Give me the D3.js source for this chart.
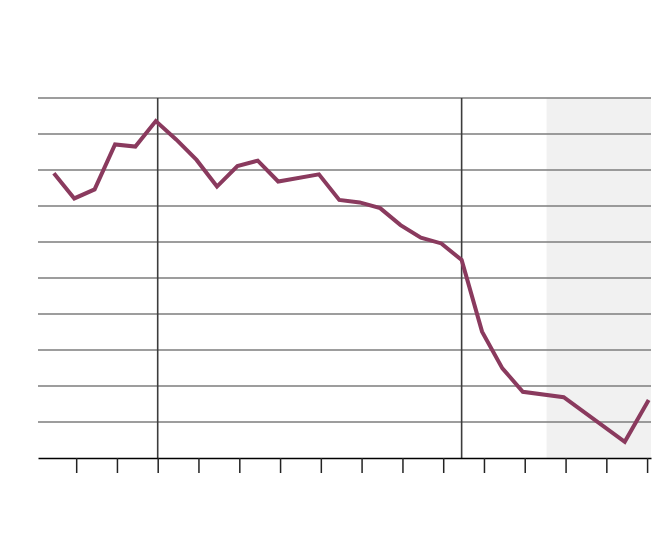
<!DOCTYPE html>
<html>
<head>
<meta charset="utf-8">
<script src="https://cdn.jsdelivr.net/npm/d3@7"></script>
<style>
  body { margin: 0; background: #fff; }
  svg { display: block; }
</style>
</head>
<body>
<div id="chart"></div>
<script>
// semi-annual readings (mid-month)
const dates = ['2000-06', '2000-12', '2001-06', '2001-12', '2002-06', '2002-12', '2003-06', '2003-12',
  '2004-06', '2004-12', '2005-06', '2005-12', '2006-12', '2007-06', '2007-12', '2008-06', '2008-12',
  '2009-06', '2009-12', '2010-06', '2010-12', '2011-06', '2011-12', '2012-12', '2014-06', '2015-01'];
const values = [7.91, 7.21, 7.46, 8.71, 8.65, 9.36, 8.85, 8.28,
  7.54, 8.11, 8.26, 7.68, 7.88, 7.17, 7.10, 6.94, 6.47,
  6.12, 5.96, 5.50, 3.51, 2.49, 1.84, 1.69, 0.45, 1.61];
const yTicks = [0, 1, 2, 3, 4, 5, 6, 7, 8, 9, 10];
const tickYears = [2001, 2002, 2003, 2004, 2005, 2006, 2007, 2008, 2009, 2010, 2011, 2012, 2013, 2014, 2015];
const markerDates = ['2003-01-01', '2010-06-15'];
const shadeStart = '2012-07-15';

const WIDTH = 670;
const HEIGHT = 554;
const margin = { top: 98, right: 19, bottom: 96, left: 38 };
const innerW = WIDTH - margin.left - margin.right;
const innerH = HEIGHT - margin.top - margin.bottom;

const parseMonth = d3.timeParse('%Y-%m');
const parseDay = d3.timeParse('%Y-%m-%d');
const data = dates.map((d, i) => {
  const dt = parseMonth(d);
  dt.setDate(15);
  return { date: dt, value: values[i] };
});

const x = d3.scaleTime()
  .domain([new Date(2000, 0, 25), new Date(2015, 1, 5)])
  .range([0, innerW]);

const y = d3.scaleLinear()
  .domain([0, 10])
  .range([innerH, 0]);

const svg = d3.select('#chart').append('svg')
  .attr('width', WIDTH)
  .attr('height', HEIGHT);

const chart = svg.append('g').attr('transform', `translate(${margin.left}, ${margin.top})`);

// forecast shading
chart.append('rect')
  .attr('x', x(parseDay(shadeStart)))
  .attr('y', 0)
  .attr('width', innerW - x(parseDay(shadeStart)))
  .attr('height', innerH)
  .attr('fill', '#f1f1f1');

// horizontal gridlines
chart.append('g').attr('class', 'grid')
  .selectAll('line').data(yTicks.filter(t => t > 0)).enter().append('line')
  .attr('x1', 0)
  .attr('x2', innerW)
  .attr('y1', d => y(d))
  .attr('y2', d => y(d))
  .attr('stroke', '#7d7d7d')
  .attr('stroke-width', 1.3);

// event markers
chart.append('g').attr('class', 'markers')
  .selectAll('line').data(markerDates).enter().append('line')
  .attr('x1', d => x(parseDay(d)))
  .attr('x2', d => x(parseDay(d)))
  .attr('y1', 0)
  .attr('y2', innerH)
  .attr('stroke', '#3c3c3c')
  .attr('stroke-width', 1.6);

// x axis with ticks only
const xAxis = chart.append('g').attr('class', 'x-axis')
  .attr('transform', `translate(0, ${innerH})`)
  .call(d3.axisBottom(x)
    .tickValues(tickYears.map(yr => new Date(yr, 0, 1)))
    .tickSize(15)
    .tickSizeOuter(0)
    .tickFormat(''));
xAxis.select('.domain').attr('stroke', '#000').attr('stroke-width', 1.5);
xAxis.selectAll('.tick line').attr('stroke', '#222').attr('stroke-width', 1.5);

// series line
const line = d3.line()
  .x(d => x(d.date))
  .y(d => y(d.value));

chart.append('path')
  .datum(data)
  .attr('fill', 'none')
  .attr('stroke', '#8a3a5e')
  .attr('stroke-width', 4)
  .attr('stroke-linejoin', 'miter')
  .attr('stroke-linecap', 'butt')
  .attr('d', line);
</script>
</body>
</html>
